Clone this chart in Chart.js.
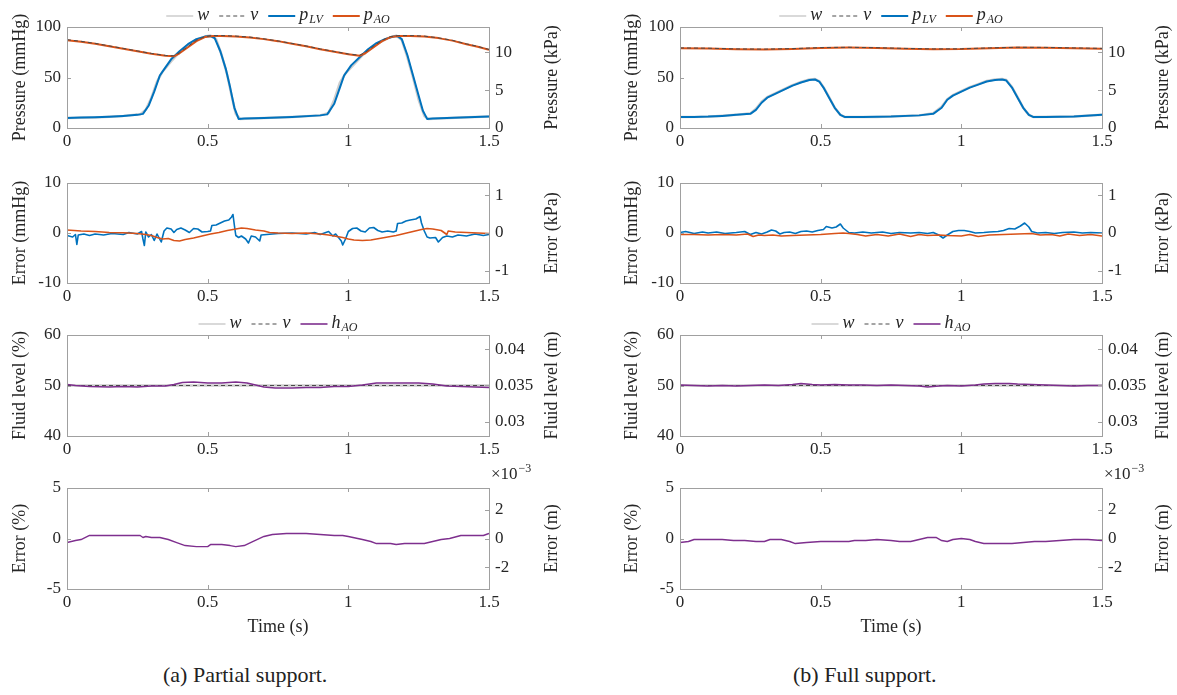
<!DOCTYPE html>
<html>
<head>
<meta charset="utf-8">
<script src="https://cdn.jsdelivr.net/npm/chart.js@4/dist/chart.umd.min.js"></script>
<style>
  body { margin: 0; background: #fff; }
  #fig { position: relative; width: 1177px; height: 695px; overflow: hidden; }
  #fig canvas { position: absolute; }
  .caption { position: absolute; top: 662px; font: 22px "Liberation Serif", "DejaVu Serif", serif; color: #222; white-space: nowrap; }
</style>
</head>
<body>
<div id="fig">
  <canvas id="a0"></canvas><canvas id="a1"></canvas><canvas id="a2"></canvas><canvas id="a3"></canvas>
  <canvas id="b0"></canvas><canvas id="b1"></canvas><canvas id="b2"></canvas><canvas id="b3"></canvas>
  <div class="caption" style="left:163px">(a) Partial support.</div>
  <div class="caption" style="left:793px">(b) Full support.</div>
</div>
<script>
// ---- measured traces, [time (s), value] ----

// (a) partial support: pressures (mmHg)
const wA = [[0,10],[0.1,10.5],[0.2,12],[0.26,13.5],[0.28,18],[0.3,30],[0.32,46],[0.34,56],[0.37,66],[0.4,75],[0.43,82],[0.46,87.5],[0.49,90.5],[0.51,91.5],[0.53,88],[0.55,72],[0.57,52],[0.585,32],[0.6,14],[0.615,9],[0.7,10],[0.8,11],[0.9,12.5],[0.93,15],[0.95,28],[0.97,45],[0.99,54],[1.02,63],[1.05,72],[1.1,83],[1.14,89],[1.17,91.5],[1.19,87],[1.21,70],[1.23,50],[1.25,28],[1.27,12],[1.285,9],[1.4,10.5],[1.5,11.5]];
const pLvA = [[0,10],[0.05,10.3],[0.1,10.6],[0.15,11.2],[0.2,12],[0.25,13],[0.27,14],[0.29,22],[0.31,36],[0.33,52],[0.35,60],[0.37,68],[0.4,76],[0.43,83],[0.46,88],[0.49,90.5],[0.51,91],[0.525,89],[0.545,76],[0.565,58],[0.58,40],[0.595,20],[0.61,9],[0.63,9.5],[0.7,10],[0.8,11],[0.9,12.5],[0.925,13.5],[0.95,24],[0.97,40],[0.985,52],[1.01,62],[1.04,70],[1.07,78],[1.1,84],[1.13,88],[1.16,90.5],[1.175,91],[1.19,88],[1.21,72],[1.23,52],[1.25,32],[1.265,17],[1.28,9],[1.3,9.5],[1.4,10.5],[1.5,11.5]];
const pAoA = [[0,87],[0.05,85.5],[0.1,83.5],[0.15,81],[0.2,78.5],[0.25,76],[0.3,73.5],[0.35,71.5],[0.38,71],[0.4,74],[0.43,80],[0.46,86],[0.49,90],[0.52,91],[0.55,91],[0.6,90.5],[0.65,89.5],[0.7,88],[0.75,86],[0.8,83.5],[0.85,81],[0.9,78],[0.95,75.5],[1.0,73],[1.04,71.5],[1.06,74],[1.09,80],[1.12,86],[1.15,90],[1.18,91],[1.22,91],[1.27,90.5],[1.32,89],[1.37,86.5],[1.42,83],[1.46,80.5],[1.5,77.5]];
const vA = [[0,87.5],[0.05,85.8],[0.1,83.8],[0.15,81.3],[0.2,78.8],[0.25,76.3],[0.3,73.8],[0.35,71.8],[0.38,71.5],[0.4,74.5],[0.43,80.8],[0.46,86.8],[0.49,90.5],[0.52,91.5],[0.55,91.5],[0.6,91],[0.65,90],[0.7,88.3],[0.75,86.2],[0.8,83.7],[0.85,81.2],[0.9,78.3],[0.95,75.8],[1.0,73.3],[1.04,72],[1.06,74.8],[1.09,81],[1.12,86.8],[1.15,90.6],[1.18,91.5],[1.22,91.5],[1.27,91],[1.32,89.3],[1.37,86.8],[1.42,83.3],[1.46,80.8],[1.5,77.8]];

// (a) pressure tracking errors (mmHg)
const errLvA = [[0,-0.5],[0.02,-0.8],[0.03,-0.3],[0.035,-2.3],[0.04,-0.4],[0.06,-0.2],[0.08,-0.5],[0.1,-0.2],[0.13,-0.4],[0.16,-0.1],[0.2,-0.3],[0.22,0.1],[0.25,-0.2],[0.265,0.3],[0.27,-1.2],[0.275,-2.5],[0.28,0.2],[0.29,-0.8],[0.3,-0.3],[0.31,-1.5],[0.32,-0.2],[0.335,-1.8],[0.345,0.4],[0.355,1.0],[0.37,0.8],[0.38,0.1],[0.39,0.7],[0.405,1.0],[0.42,0.6],[0.435,0.1],[0.45,0.9],[0.465,0.8],[0.48,0.2],[0.5,0.3],[0.51,0.4],[0.515,1.5],[0.53,1.6],[0.545,2.0],[0.56,2.4],[0.575,2.6],[0.585,3.2],[0.59,3.7],[0.595,1.5],[0.6,-0.5],[0.61,-0.9],[0.62,-0.6],[0.635,-1.2],[0.645,-2.0],[0.655,-0.6],[0.67,-0.8],[0.685,-1.6],[0.69,-0.4],[0.71,-0.3],[0.75,-0.1],[0.8,0],[0.85,-0.2],[0.88,0.1],[0.9,-0.3],[0.93,0.3],[0.945,-0.6],[0.955,-0.2],[0.965,-0.9],[0.975,-1.6],[0.98,-2.4],[0.99,-1.2],[1.0,0.3],[1.015,0.9],[1.03,1.0],[1.045,0.4],[1.06,0.2],[1.075,1.0],[1.09,1.1],[1.105,0.5],[1.12,0.2],[1.14,0.4],[1.16,0.2],[1.17,0.4],[1.175,1.9],[1.19,2.0],[1.205,2.4],[1.22,2.6],[1.24,2.8],[1.255,3.3],[1.26,2.0],[1.27,0.4],[1.28,-0.8],[1.29,-1.0],[1.31,-0.9],[1.32,-1.8],[1.335,-0.9],[1.35,-0.6],[1.37,-0.8],[1.39,-0.4],[1.42,-0.6],[1.45,-0.2],[1.48,-0.5],[1.5,-0.3]];
const errAoA = [[0,0.6],[0.05,0.4],[0.1,0.3],[0.15,0.1],[0.2,0.05],[0.25,-0.1],[0.28,-0.3],[0.3,-0.5],[0.32,-0.9],[0.34,-1.2],[0.36,-1.1],[0.38,-1.5],[0.4,-1.6],[0.42,-1.3],[0.45,-1.0],[0.48,-0.6],[0.51,-0.2],[0.54,0.1],[0.57,0.5],[0.6,0.8],[0.62,1.0],[0.64,0.9],[0.67,0.6],[0.7,0.4],[0.72,0.1],[0.75,0],[0.8,-0.1],[0.85,0],[0.9,-0.2],[0.93,-0.4],[0.96,-0.7],[0.98,-0.9],[1.0,-1.2],[1.02,-1.4],[1.05,-1.5],[1.08,-1.4],[1.11,-1.1],[1.14,-0.8],[1.17,-0.5],[1.2,-0.1],[1.23,0.3],[1.26,0.7],[1.28,0.9],[1.3,0.8],[1.33,0.5],[1.35,-0.3],[1.355,0.4],[1.38,0.2],[1.42,0.1],[1.46,0],[1.5,-0.1]];

// (a) aortic fluid level (%) and its error (%)
const levelRef = [[0,50],[1.5,50]];
const hAoA = [[0,50.2],[0.03,50.0],[0.08,49.8],[0.15,49.7],[0.2,49.8],[0.25,49.7],[0.3,49.9],[0.35,49.9],[0.38,50.2],[0.41,50.6],[0.45,50.7],[0.5,50.5],[0.55,50.5],[0.6,50.7],[0.64,50.5],[0.67,50.1],[0.7,49.7],[0.74,49.5],[0.8,49.5],[0.85,49.6],[0.9,49.6],[0.95,49.8],[1.0,49.8],[1.05,50.1],[1.1,50.5],[1.15,50.5],[1.2,50.5],[1.25,50.5],[1.3,50.3],[1.35,49.9],[1.4,49.8],[1.45,49.7],[1.5,49.6]];
const errLevelA = [[0,-0.4],[0.03,-0.2],[0.05,-0.1],[0.08,0.3],[0.12,0.3],[0.2,0.3],[0.26,0.3],[0.27,0.1],[0.28,0.2],[0.3,0.1],[0.33,0.1],[0.36,-0.1],[0.39,-0.4],[0.42,-0.7],[0.46,-0.8],[0.5,-0.8],[0.51,-0.6],[0.55,-0.6],[0.58,-0.7],[0.6,-0.8],[0.63,-0.7],[0.66,-0.3],[0.7,0.2],[0.73,0.4],[0.78,0.5],[0.85,0.5],[0.9,0.4],[0.95,0.3],[0.98,0.3],[1.0,0.2],[1.05,-0.1],[1.08,-0.3],[1.1,-0.5],[1.15,-0.5],[1.17,-0.6],[1.2,-0.5],[1.27,-0.5],[1.3,-0.3],[1.33,-0.1],[1.36,0],[1.4,0.3],[1.45,0.3],[1.48,0.3],[1.5,0.5]];

// (b) full support: pressures (mmHg)
const wB = [[0,11],[0.1,11.2],[0.2,13],[0.25,14.5],[0.27,19],[0.29,26],[0.31,30.5],[0.34,34.5],[0.37,38.5],[0.4,42.5],[0.43,45.5],[0.46,48],[0.48,48.5],[0.495,46.5],[0.51,40.5],[0.53,30.5],[0.55,20],[0.57,13],[0.585,11],[0.7,11],[0.85,12.5],[0.9,14.5],[0.93,21],[0.95,28.5],[0.97,32.5],[1.0,36.5],[1.03,40.5],[1.06,43.5],[1.09,46.5],[1.12,48],[1.145,48.5],[1.16,47.5],[1.18,40.5],[1.2,30.5],[1.22,20],[1.24,13],[1.255,11],[1.4,11.5],[1.5,13]];
const pLvB = [[0,11],[0.05,11],[0.1,11.3],[0.15,12],[0.2,13],[0.25,14],[0.27,18],[0.29,25],[0.31,30],[0.34,34],[0.37,38],[0.4,42],[0.43,45],[0.46,47.5],[0.48,48],[0.495,46],[0.51,40],[0.53,30],[0.55,20],[0.57,13],[0.585,11],[0.65,11],[0.75,11.3],[0.85,12.5],[0.9,14],[0.93,20],[0.95,28],[0.97,32],[1.0,36],[1.03,40],[1.06,43],[1.09,46],[1.12,47.5],[1.145,48],[1.16,47],[1.18,40],[1.2,30],[1.22,20],[1.24,13],[1.255,11],[1.3,11],[1.4,11.5],[1.5,13]];
const pAoB = [[0,79],[0.1,78.7],[0.2,78],[0.3,77.8],[0.4,78.3],[0.5,79.3],[0.55,79.5],[0.6,79.6],[0.7,79.2],[0.8,78.5],[0.9,78],[1.0,78.1],[1.1,79],[1.2,79.6],[1.3,79.5],[1.4,79],[1.5,78.5]];
const vB = [[0,79.3],[0.1,79],[0.2,78.3],[0.3,78.1],[0.4,78.6],[0.5,79.6],[0.55,79.8],[0.6,79.9],[0.7,79.5],[0.8,78.8],[0.9,78.3],[1.0,78.4],[1.1,79.3],[1.2,79.9],[1.3,79.8],[1.4,79.3],[1.5,78.8]];

// (b) pressure tracking errors (mmHg)
const errLvB = [[0,0.1],[0.02,0.3],[0.05,-0.1],[0.08,0.2],[0.1,0],[0.13,0.2],[0.16,-0.1],[0.2,0.1],[0.23,0.3],[0.25,-0.3],[0.27,0.1],[0.29,-0.2],[0.31,0.2],[0.325,0.6],[0.34,0.4],[0.355,-0.2],[0.37,0.1],[0.39,0.2],[0.41,-0.1],[0.43,0.3],[0.45,0.4],[0.47,0.2],[0.49,0.5],[0.51,0.7],[0.52,1.3],[0.54,1.0],[0.555,1.2],[0.57,1.8],[0.58,1.0],[0.6,0.1],[0.62,0],[0.65,0.2],[0.68,0],[0.72,0.2],[0.75,-0.1],[0.78,0.1],[0.82,0],[0.85,0.1],[0.88,-0.1],[0.9,0.1],[0.92,-0.4],[0.935,-1.0],[0.95,-0.4],[0.97,0.3],[0.99,0.5],[1.01,0.5],[1.03,0.3],[1.05,0],[1.08,0.1],[1.1,0.2],[1.13,0.3],[1.15,0.5],[1.17,0.9],[1.19,0.8],[1.21,1.4],[1.225,2.0],[1.24,1.2],[1.25,0.3],[1.27,0],[1.3,0.1],[1.33,-0.1],[1.36,0.1],[1.4,0.2],[1.43,0],[1.46,0.1],[1.5,0]];
const errAoB = [[0,-0.3],[0.05,-0.3],[0.1,-0.4],[0.15,-0.3],[0.2,-0.4],[0.24,-0.2],[0.26,-0.7],[0.28,-0.4],[0.3,-0.5],[0.33,-0.4],[0.36,-0.6],[0.4,-0.5],[0.45,-0.4],[0.5,-0.3],[0.55,-0.1],[0.58,0],[0.6,-0.1],[0.63,-0.3],[0.66,-0.6],[0.7,-0.3],[0.74,-0.6],[0.78,-0.2],[0.82,-0.7],[0.85,-0.3],[0.88,-0.5],[0.92,-0.4],[0.95,-0.5],[1.0,-0.6],[1.03,-0.3],[1.06,-0.7],[1.1,-0.4],[1.15,-0.3],[1.2,-0.2],[1.25,-0.1],[1.28,-0.4],[1.32,-0.3],[1.35,-0.6],[1.38,-0.2],[1.42,-0.5],[1.46,-0.3],[1.5,-0.6]];

// (b) aortic fluid level (%) and its error (%)
const hAoB = [[0,50.1],[0.05,50.0],[0.1,49.9],[0.15,50.0],[0.2,49.9],[0.25,50.0],[0.3,50.1],[0.35,50.0],[0.4,50.2],[0.43,50.4],[0.47,50.2],[0.5,50.1],[0.55,50.2],[0.6,50.1],[0.65,50.1],[0.7,50.0],[0.75,50.1],[0.8,50.0],[0.85,49.9],[0.88,49.7],[0.92,49.9],[0.95,50.0],[1.0,49.9],[1.05,50.1],[1.08,50.3],[1.12,50.4],[1.17,50.4],[1.2,50.3],[1.25,50.2],[1.3,50.1],[1.35,50.0],[1.4,49.9],[1.45,50.0],[1.5,50.0]];
const errLevelB = [[0,-0.4],[0.03,-0.3],[0.05,-0.1],[0.1,-0.1],[0.15,-0.1],[0.19,-0.2],[0.23,-0.2],[0.27,-0.3],[0.3,-0.3],[0.32,-0.1],[0.36,-0.1],[0.39,-0.3],[0.41,-0.5],[0.45,-0.4],[0.5,-0.3],[0.55,-0.3],[0.6,-0.3],[0.62,-0.2],[0.66,-0.2],[0.7,-0.1],[0.75,-0.2],[0.78,-0.3],[0.82,-0.3],[0.85,-0.1],[0.88,0.1],[0.91,0.1],[0.93,-0.2],[0.95,-0.3],[0.97,-0.1],[1.0,0],[1.03,-0.1],[1.05,-0.3],[1.08,-0.5],[1.12,-0.5],[1.18,-0.5],[1.22,-0.4],[1.26,-0.3],[1.3,-0.3],[1.35,-0.2],[1.4,-0.1],[1.45,-0.1],[1.5,-0.2]];

// ---- axes ----
const timeTicks = [0, 0.5, 1, 1.5];
const KPA_PER_MMHG = 0.133322;
const M_PER_PCT = 0.0007;
const pressTicks = [0, 50, 100], pressKpaTicks = [0, 5, 10];
const errTicks = [-10, 0, 10], errKpaTicks = [-1, 0, 1];
const levelTicks = [40, 50, 60], levelMTicks = [0.03, 0.035, 0.04];
const levelErrTicks = [-5, 0, 5], levelErrMTicks = [-2, 0, 2];

const SERIF = '"Liberation Serif", "DejaVu Serif", serif';
const TEXT = '#262626';
const FRAME = '#a0a0a0';
const BLUE = '#0072BD', ORANGE = '#D95319', PURPLE = '#7E2F8E';
const W_COLOR = '#cdcdcd', V_COLOR = '#4a4a4a';

const COLS = {
  a: { left: 0, width: 590, plotL: 67, plotR: 489, titleL: 20, titleR: 552 },
  b: { left: 590, width: 587, plotL: 680, plotR: 1102, titleL: 632, titleR: 1163 }
};
// canvases overlap a little so the tick labels below each plot are not cut off
const ROWS = [
  { top: 0, h: 160, plotT: 27, plotB: 128 },
  { top: 150, h: 165, plotT: 183, plotB: 283 },
  { top: 300, h: 170, plotT: 335, plotB: 436 },
  { top: 460, h: 180, plotT: 488, plotB: 589 }
];
const AXES = [
  { l: [0, 100, pressTicks, 'Pressure (mmHg)'], r: [0, 100 * KPA_PER_MMHG, pressKpaTicks, 'Pressure (kPa)'], legend: true },
  { l: [-10, 10, errTicks, 'Error (mmHg)'], r: [-10 * KPA_PER_MMHG, 10 * KPA_PER_MMHG, errKpaTicks, 'Error (kPa)'] },
  { l: [40, 60, levelTicks, 'Fluid level (%)'], r: [40 * M_PER_PCT, 60 * M_PER_PCT, levelMTicks, 'Fluid level (m)'], legend: true },
  { l: [-5, 5, levelErrTicks, 'Error (%)'], r: [-5 * M_PER_PCT * 1000, 5 * M_PER_PCT * 1000, levelErrMTicks, 'Error (m)'], exponent: true, timeTitle: true }
];

const pts = arr => arr.map(([x, y]) => ({ x, y }));
const wLine = (d) => ({ label: 'w', data: pts(d), borderColor: W_COLOR, borderWidth: 2.5, order: 9 });
const vLine = (d) => ({ label: 'v', data: pts(d), borderColor: V_COLOR, borderWidth: 1, borderDash: [4, 3], order: 1 });
const line = (d, color, label, sub, order, width) =>
  ({ label, sub, data: pts(d), borderColor: color, borderWidth: width || 2, order });

// frame, inward ticks, axis titles, legend and exponent label
const decor = {
  id: 'decor',
  afterDraw(chart, args, o) {
    const { ctx, chartArea: a, scales } = chart;
    const seg = (x1, y1, x2, y2) => { ctx.beginPath(); ctx.moveTo(x1, y1); ctx.lineTo(x2, y2); ctx.stroke(); };
    ctx.save();
    ctx.strokeStyle = FRAME;
    ctx.lineWidth = 1;
    ctx.strokeRect(Math.round(a.left) + 0.5, Math.round(a.top) + 0.5, Math.round(a.right - a.left), Math.round(a.bottom - a.top));
    const tl = 4;
    scales.x.ticks.forEach(t => {
      const px = Math.round(scales.x.getPixelForValue(t.value)) + 0.5;
      seg(px, a.bottom, px, a.bottom - tl);
      seg(px, a.top, px, a.top + tl);
    });
    scales.y.ticks.forEach(t => {
      const py = Math.round(scales.y.getPixelForValue(t.value)) + 0.5;
      seg(a.left, py, a.left + tl, py);
    });
    scales.y1.ticks.forEach(t => {
      const py = Math.round(scales.y1.getPixelForValue(t.value)) + 0.5;
      seg(a.right, py, a.right - tl, py);
    });

    ctx.fillStyle = TEXT;
    ctx.font = '18px ' + SERIF;
    ctx.textAlign = 'center';
    ctx.textBaseline = 'middle';
    const midY = (a.top + a.bottom) / 2;
    [[o.titleLX, o.titleL], [o.titleRX, o.titleR]].forEach(([x, text]) => {
      ctx.save();
      ctx.translate(x, midY);
      ctx.rotate(-Math.PI / 2);
      ctx.fillText(text, 0, 0);
      ctx.restore();
    });
    if (o.timeTitle) ctx.fillText('Time (s)', (a.left + a.right) / 2, a.bottom + 38);

    if (o.exponent) {
      ctx.textAlign = 'left';
      ctx.textBaseline = 'alphabetic';
      ctx.font = '17px ' + SERIF;
      const x0 = a.right + 2, y0 = a.top - 9;
      ctx.fillText('\u00d710', x0, y0);
      const w = ctx.measureText('\u00d710').width;
      ctx.font = '12px ' + SERIF;
      ctx.fillText('\u22123', x0 + w + 1, y0 - 7);
    }

    if (o.legend) {
      const sample = 27, gap = 4, sep = 10;
      const items = chart.data.datasets.map(ds => {
        ctx.font = 'italic 18px ' + SERIF;
        let w = ctx.measureText(ds.label).width;
        if (ds.sub) { ctx.font = 'italic 12px ' + SERIF; w += ctx.measureText(ds.sub).width + 1; }
        return { ds, w };
      });
      const total = items.reduce((s, it) => s + sample + gap + it.w, 0) + sep * (items.length - 1);
      let x = (a.left + a.right) / 2 - total / 2;
      const y = a.top - 12;
      items.forEach(({ ds, w }) => {
        ctx.strokeStyle = ds.borderColor;
        ctx.lineWidth = ds.label === 'w' ? 1.5 : ds.borderWidth;
        ctx.setLineDash(ds.borderDash || []);
        seg(x, y + 1, x + sample, y + 1);
        ctx.setLineDash([]);
        x += sample + gap;
        ctx.textAlign = 'left';
        ctx.textBaseline = 'middle';
        ctx.font = 'italic 18px ' + SERIF;
        ctx.fillText(ds.label, x, y);
        const lw = ctx.measureText(ds.label).width;
        if (ds.sub) {
          ctx.font = 'italic 12px ' + SERIF;
          ctx.fillText(ds.sub, x + lw + 1, y + 5);
        }
        x += w + sep;
      });
    }
    ctx.restore();
  }
};

function panel(id, col, row, datasets) {
  const C = COLS[col], R = ROWS[row], A = AXES[row];
  const cv = document.getElementById(id);
  cv.width = C.width; cv.height = R.h;
  cv.style.left = C.left + 'px'; cv.style.top = R.top + 'px';
  const tickFont = { family: SERIF, size: 17 };
  const yAxis = (spec, pos, width) => ({
    type: 'linear', position: pos, min: spec[0], max: spec[1],
    grid: { display: false, drawTicks: false }, border: { display: false },
    ticks: { font: tickFont, color: TEXT, padding: 6, callback: v => String(v) },
    afterBuildTicks: s => { s.ticks = spec[2].map(v => ({ value: v })); },
    afterFit: s => { s.width = width; }
  });
  new Chart(cv, {
    type: 'line',
    data: { datasets },
    options: {
      responsive: false, animation: false, devicePixelRatio: 1,
      layout: { padding: { top: R.plotT - R.top, left: 0, right: 0, bottom: 0 } },
      elements: { point: { radius: 0 }, line: { tension: 0, borderJoinStyle: 'round' } },
      scales: {
        x: {
          type: 'linear', min: 0, max: 1.5,
          grid: { display: false, drawTicks: false }, border: { display: false },
          ticks: { font: tickFont, color: TEXT, padding: 3, maxRotation: 0, callback: v => String(v) },
          afterBuildTicks: s => { s.ticks = timeTicks.map(v => ({ value: v })); },
          afterFit: s => { s.height = R.top + R.h - R.plotB; }
        },
        y: yAxis(A.l, 'left', C.plotL - C.left),
        y1: yAxis(A.r, 'right', C.left + C.width - C.plotR)
      },
      plugins: {
        legend: { display: false }, tooltip: { enabled: false },
        decor: {
          titleL: A.l[3], titleR: A.r[3], titleLX: C.titleL - C.left, titleRX: C.titleR - C.left,
          legend: !!A.legend, exponent: !!A.exponent, timeTitle: !!A.timeTitle
        }
      }
    },
    plugins: [decor]
  });
}

panel('a0', 'a', 0, [wLine(wA), vLine(vA), line(pLvA, BLUE, 'p', 'LV', 3), line(pAoA, ORANGE, 'p', 'AO', 2)]);
panel('a1', 'a', 1, [line(errLvA, BLUE, 'p', 'LV', 2, 1.6), line(errAoA, ORANGE, 'p', 'AO', 1, 1.6)]);
panel('a2', 'a', 2, [wLine(levelRef), vLine(levelRef), line(hAoA, PURPLE, 'h', 'AO', 0, 1.6)]);
panel('a3', 'a', 3, [line(errLevelA, PURPLE, 'h', 'AO', 0, 1.4)]);

panel('b0', 'b', 0, [wLine(wB), vLine(vB), line(pLvB, BLUE, 'p', 'LV', 3), line(pAoB, ORANGE, 'p', 'AO', 2)]);
panel('b1', 'b', 1, [line(errLvB, BLUE, 'p', 'LV', 2, 1.6), line(errAoB, ORANGE, 'p', 'AO', 1, 1.6)]);
panel('b2', 'b', 2, [wLine(levelRef), vLine(levelRef), line(hAoB, PURPLE, 'h', 'AO', 0, 1.6)]);
panel('b3', 'b', 3, [line(errLevelB, PURPLE, 'h', 'AO', 0, 1.4)]);
</script>
</body>
</html>
